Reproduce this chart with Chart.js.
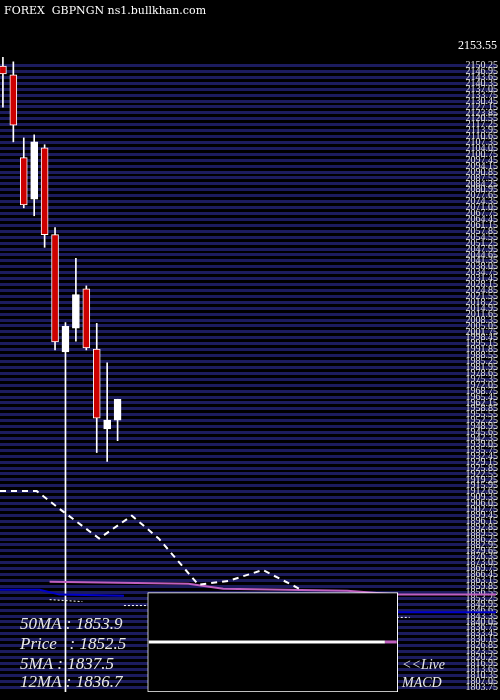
<!DOCTYPE html><html><head><style>body{margin:0;background:#000}#w{width:500px;height:700px;position:relative}</style>
<script src="https://cdn.jsdelivr.net/npm/chart.js@4"></script></head><body><div id="w"><canvas id="c" width="500" height="700"></canvas></div>
<script>
const candleX=[0,1,2,3,4,5,6,7,8,9,10,11];
const opens=[2150.0,2145.1,2098.9,2075.8,2104.4,2056.0,1990.6,2003.8,2025.8,1992.2,1947.7,1952.6];
const closes=[2145.6,2117.0,2072.5,2107.7,2056.0,1996.1,2004.9,2022.5,1992.8,1953.7,1952.6,1964.2];
const highs=[2155.0,2152.3,2109.9,2111.6,2106.1,2059.9,2007.0,2042.8,2027.4,2006.5,1984.5,1964.2];
const lows=[2127.0,2107.7,2070.9,2066.5,2048.9,1991.7,1801.0,1996.6,1991.7,1934.5,1929.5,1941.1];
const maX=[-0.28,3.24,5.43,9.23,12.37,14.94,18.75,21.6,24.93,28.26,28.74];
const maY=[1913.0,1913.0,1903.1,1886.6,1899.3,1886.6,1860.8,1862.9,1869.0,1859.1,1857.5];
const purX=[4.48,17.8,21.13,33.02,37.78,47.3];
const purY=[1862.4,1861.3,1858.6,1857.5,1855.3,1855.3];
const blueX=[-0.28,3.53,5.43,11.61,11.71,37.78,47.3];
const blueY=[1858.0,1858.0,1855.3,1854.7,null,1845.4,1845.4];
const dotX=[4.48,7.62,7.71,11.61,13.99,14.09,37.78,39.02];
const dotY=[1852.5,1851.4,null,1849.2,1849.2,null,1842.6,1842.6];
const macdX=[13.99,36.64], macdY=[1828.9,1828.9];
const macd2X=[36.64,37.78], macd2Y=[1828.9,1828.9];
const boxX=[25.88], boxRange=[[1801,1856.4]];
const infoLabels=["50MA : 1853.9","Price   : 1852.5","5MA : 1837.5","12MA : 1836.7"];
const liveLabels=["<<Live","MACD"];
const title="FOREX  GBPNGN ns1.bullkhan.com";
const tickTop=2153.55, tickStep=3.3;

const xy=(xs,ys)=>xs.map((x,i)=>({x,y:ys[i]}));
const body=candleX.map((x,i)=>({x,y:[opens[i],closes[i]]}));
const wick=candleX.map((x,i)=>({x,y:[lows[i],highs[i]]}));
const bodyCol=candleX.map((x,i)=>closes[i]>=opens[i]?'#ffffff':'#cc0000');
const deco={id:'deco',afterDraw(ch){const c=ch.ctx;c.save();c.fillStyle='#fff';c.font='11px "DejaVu Serif","Liberation Serif",serif';c.textBaseline='top';c.fillText(title,4,6);
c.font='12px "Liberation Serif",serif';c.textAlign='right';c.fillText(tickTop.toFixed(2),497,40);c.textAlign='left';
c.font='italic 17px "Liberation Serif",serif';c.fillStyle='#e8e8e8';c.textBaseline='middle';
[625,645,665,683].forEach((y,i)=>c.fillText(infoLabels[i],20,y));
c.font='italic 14px "Liberation Serif",serif';c.fillText(liveLabels[0],402,665);c.fillText(liveLabels[1],402,683);c.restore();}};
new Chart(document.getElementById('c'),{data:{datasets:[
{type:'bar',data:wick,backgroundColor:'#fff',barThickness:1,order:5,grouped:false},
{type:'bar',data:body,backgroundColor:bodyCol,borderColor:'#fff',borderWidth:1,barThickness:7,order:4,grouped:false,borderSkipped:false},
{type:'line',data:xy(maX,maY),borderColor:'#fff',borderWidth:2,borderDash:[6,5],pointRadius:0,order:3},
{type:'line',data:xy(purX,purY),borderColor:'#c060c0',borderWidth:2,pointRadius:0,order:3},
{type:'line',data:xy(blueX,blueY),borderColor:'#0000cc',borderWidth:2,pointRadius:0,order:3,spanGaps:false},
{type:'line',data:xy(dotX,dotY),borderColor:'#fff',borderWidth:1,borderDash:[2,2],pointRadius:0,order:3,spanGaps:false},
{type:'bar',data:boxX.map((x,i)=>({x,y:boxRange[i]})),backgroundColor:'#000',borderColor:'#fff',borderWidth:1,barThickness:250,order:1,grouped:false,borderSkipped:false},
{type:'line',data:xy(macdX,macdY),borderColor:'#fff',borderWidth:3,pointRadius:0,order:0},
{type:'line',data:xy(macd2X,macd2Y),borderColor:'#c060c0',borderWidth:3,pointRadius:0,order:0}
]},options:{responsive:false,animation:false,layout:{padding:{top:57}},plugins:{legend:{display:false},tooltip:{enabled:false}},
scales:{x:{type:'linear',min:-0.28,max:47.3,display:false,offset:false},
y:{position:'right',min:1801,max:2155,
afterBuildTicks(s){const t=[];for(let v=tickTop-tickStep;v>1801;v-=tickStep)t.push({value:+v.toFixed(2)});s.ticks=t;},
ticks:{mirror:true,padding:2,autoSkip:false,color:'#e0e0e0',font:{size:10,family:'"Liberation Serif",serif'},callback:v=>v.toFixed(2)},
grid:{color:'#1c1c5e',lineWidth:3,drawTicks:false},border:{display:false}}}},plugins:[deco,{id:'bg',beforeDraw(ch){ch.ctx.fillStyle='#000';ch.ctx.fillRect(0,0,500,700);}}]});
</script></body></html>
